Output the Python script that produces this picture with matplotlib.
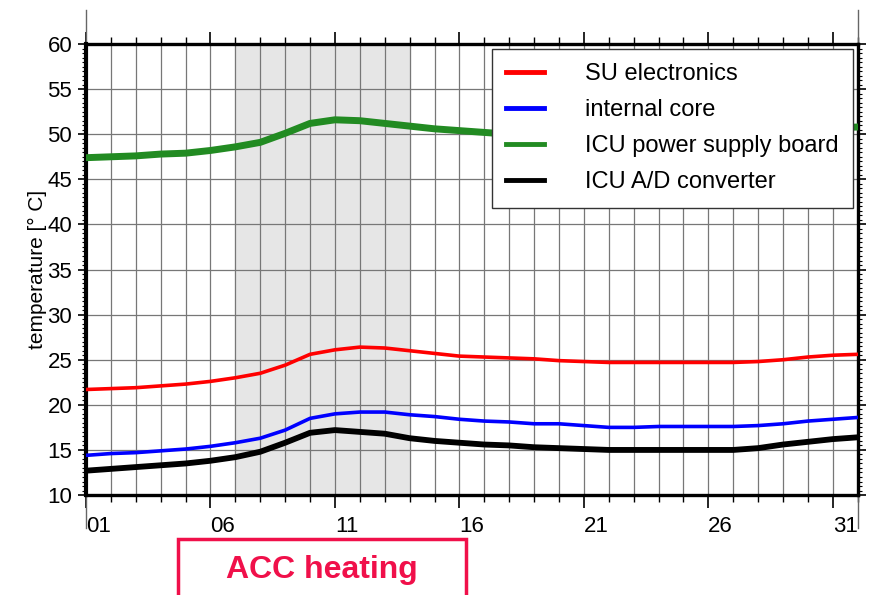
import numpy as np
import matplotlib.pyplot as plt
import matplotlib.patches as patches
from matplotlib.lines import Line2D
from matplotlib.ticker import MultipleLocator, FixedLocator

plt.rcParams['font.family'] = ['Liberation Sans', 'DejaVu Sans']

# days of the month (sampled once per day)
days = list(range(1, 33))

su_electronics = [21.7, 21.8, 21.9, 22.1, 22.3, 22.6, 23.0, 23.5, 24.4, 25.6, 26.1, 26.4,
                  26.3, 26.0, 25.7, 25.4, 25.3, 25.2, 25.1, 24.9, 24.8, 24.7, 24.7, 24.7,
                  24.7, 24.7, 24.7, 24.8, 25.0, 25.3, 25.5, 25.6]
internal_core = [14.4, 14.6, 14.7, 14.9, 15.1, 15.4, 15.8, 16.3, 17.2, 18.5, 19.0, 19.2,
                 19.2, 18.9, 18.7, 18.4, 18.2, 18.1, 17.9, 17.9, 17.7, 17.5, 17.5, 17.6,
                 17.6, 17.6, 17.6, 17.7, 17.9, 18.2, 18.4, 18.6]
icu_power = [47.4, 47.5, 47.6, 47.8, 47.9, 48.2, 48.6, 49.1, 50.1, 51.2, 51.6, 51.5,
             51.2, 50.9, 50.6, 50.4, 50.2, 50.0, 49.9, 49.8, 49.7, 49.6, 49.6, 49.6,
             49.6, 49.6, 49.7, 49.9, 50.2, 50.5, 50.7, 50.8]
icu_adc = [12.7, 12.9, 13.1, 13.3, 13.5, 13.8, 14.2, 14.8, 15.8, 16.9, 17.2, 17.0,
           16.8, 16.3, 16.0, 15.8, 15.6, 15.5, 15.3, 15.2, 15.1, 15.0, 15.0, 15.0,
           15.0, 15.0, 15.0, 15.2, 15.6, 15.9, 16.2, 16.4]

major_days = [1, 6, 11, 16, 21, 26, 31]
major_labels = ['01', '06', '11', '16', '21', '26', '31']
heating_start, heating_end = 7, 14

fig = plt.figure(figsize=(8.69, 5.95), dpi=100)
ax = fig.add_axes([0.099, 0.168, 0.888, 0.758])

# ACC heating period
ax.axvspan(heating_start, heating_end, color='#e6e6e6', zorder=0)

ax.plot(days, su_electronics, color='#ff0000', lw=2.6, label='SU electronics', zorder=3)
ax.plot(days, internal_core, color='#0000ff', lw=2.6, label='internal core', zorder=3)
ax.plot(days, icu_power, color='#228b22', lw=5.0, label='ICU power supply board', zorder=3)
ax.plot(days, icu_adc, color='#000000', lw=4.2, label='ICU A/D converter', zorder=3)

ax.set_xlim(1, 32)
ax.set_ylim(10, 60)

ax.xaxis.set_major_locator(FixedLocator(major_days))
ax.xaxis.set_minor_locator(MultipleLocator(1))
ax.set_xticklabels(major_labels, ha='left')
ax.yaxis.set_major_locator(MultipleLocator(5))
ax.yaxis.set_minor_locator(MultipleLocator(0.5))

ax.grid(True, which='both', axis='x', color='#777777', lw=0.9)
ax.grid(True, which='major', axis='y', color='#777777', lw=0.9)
ax.set_axisbelow(True)

ax.tick_params(axis='x', which='major', direction='out', length=9, width=1.2,
               top=True, labelsize=16, pad=6, colors='black')
ax.tick_params(axis='x', which='minor', direction='out', length=5, width=1.0, top=True)
ax.tick_params(axis='y', which='major', direction='out', length=6, width=1.2,
               right=True, labelsize=16, pad=4)
ax.tick_params(axis='y', which='minor', direction='out', length=3, width=0.8, right=True)

for s in ax.spines.values():
    s.set_linewidth(2.4)
ax.spines['left'].set_linewidth(3.0)

ax.set_ylabel('temperature [° C]', fontsize=15, labelpad=0)

leg = ax.legend(loc='upper right', fontsize=17, frameon=True, fancybox=False,
                edgecolor='#333333', framealpha=1, handlelength=1.6, handletextpad=1.75,
                labelspacing=0.6, borderpad=0.6, borderaxespad=0.2)
leg.get_frame().set_linewidth(1.0)
for h in leg.legend_handles:
    h.set_linewidth(3.5)

# outer frame lines above and below the panel
for xa in (0.0, 1.0):
    ax.add_line(Line2D([xa, xa], [-0.073, 1.075], transform=ax.transAxes,
                       color='#666666', lw=1.0, clip_on=False, zorder=1))

# ACC heating annotation box
box = patches.Rectangle((0.205, -0.05), 0.331, 0.144, transform=fig.transFigure,
                        fill=False, edgecolor='#f0104a', lw=2.5, clip_on=False)
fig.patches.append(box)
fig.text(0.3705, 0.042, 'ACC heating', color='#f0104a', fontsize=23,
         fontweight='bold', ha='center', va='center')

fig.savefig('out.png', dpi=100)
